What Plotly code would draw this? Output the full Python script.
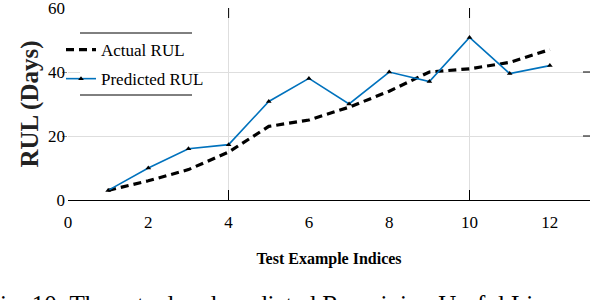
import plotly.graph_objects as go

# Data
test_indices = [1, 2, 3, 4, 5, 6, 7, 8, 9, 10, 11, 12]
actual_rul = [3, 6, 9.5, 15, 23, 25, 29, 34, 40, 41, 43, 47]
predicted_rul = [3, 10, 16, 17.3, 30.8, 38, 30, 40, 37, 50.8, 39.5, 42]
x_tick_vals = [0, 2, 4, 6, 8, 10, 12]
y_tick_vals = [0, 20, 40, 60]
x_grid_vals = [4, 10]
y_grid_vals = [20, 40]

SERIF = "Liberation Serif, Times New Roman, serif"

fig = go.Figure()
fig.add_trace(go.Scatter(
    x=test_indices, y=actual_rul, mode="lines", name="Actual RUL",
    line=dict(color="black", width=3.2, dash="8px,5px"),
    legendgroup="a",
))
fig.add_trace(go.Scatter(
    x=test_indices, y=predicted_rul, mode="lines+markers", name="Predicted RUL",
    line=dict(color="#0072BD", width=1.6),
    marker=dict(symbol="triangle-up", size=5, color="black"),
    legendgroup="b",
))

L, R, T, B = 68, 20, 8, 100
W, H = 610, 300
pw, ph = W - L - R, H - T - B

def px_x(p):
    return (p - L) / pw

def px_y(p):
    return (H - B - p) / ph

shapes = []
# white panel behind the legend
shapes.append(dict(type="rect", xref="paper", yref="paper", layer="above",
                   x0=px_x(80), x1=px_x(192), y0=px_y(95), y1=px_y(33),
                   fillcolor="white", line=dict(width=0)))
# top inside tick marks at x grid positions
for v in x_grid_vals:
    shapes.append(dict(type="line", xref="x", yref="paper", x0=v, x1=v,
                       y0=1, y1=1 - 10 / ph, line=dict(color="black", width=1)))
# right inside tick marks at y grid positions
for v in y_grid_vals:
    shapes.append(dict(type="line", xref="paper", yref="y", x0=1, x1=1 - 7 / pw,
                       y0=v, y1=v, line=dict(color="black", width=1)))
# legend top and bottom rules
for p in (33, 95):
    shapes.append(dict(type="line", xref="paper", yref="paper", layer="above",
                       x0=px_x(80), x1=px_x(192), y0=px_y(p), y1=px_y(p),
                       line=dict(color="black", width=1)))

fig.update_layout(
    width=W, height=H,
    margin=dict(l=L, r=R, t=T, b=B, autoexpand=False),
    plot_bgcolor="white", paper_bgcolor="white",
    font=dict(family=SERIF, color="black", size=16),
    showlegend=True,
    legend=dict(x=px_x(61), y=px_y(32), xanchor="left", yanchor="top",
                bgcolor="rgba(0,0,0,0)", borderwidth=0,
                font=dict(family=SERIF, size=17, color="black"),
                tracegroupgap=4),
    xaxis=dict(range=[0, 13], tickvals=x_tick_vals, ticks="", showgrid=False,
               zeroline=False, showline=True, linecolor="black", linewidth=1,
               tickfont=dict(family=SERIF, size=17, color="black"),
               ticklabelstandoff=7, ticklabeloverflow="allow",
               minor=dict(tickvals=x_grid_vals, ticks="inside", ticklen=10,
                          tickcolor="black", showgrid=True, gridcolor="#dedede",
                          gridwidth=1),
               title=dict(text="<b>Test Example Indices</b>",
                          font=dict(family=SERIF, size=16, color="black"),
                          standoff=21)),
    yaxis=dict(range=[0, 60], tickvals=y_tick_vals, ticks="", showgrid=False,
               zeroline=False, showline=False,
               tickfont=dict(family=SERIF, size=17, color="black"),
               ticklabelstandoff=2, ticklabeloverflow="allow",
               minor=dict(tickvals=y_grid_vals, ticks="outside", ticklen=5,
                          tickcolor="#888888", showgrid=True, gridcolor="#dedede",
                          gridwidth=1),
               title=dict(text="<b>RUL (Days)</b>",
                          font=dict(family=SERIF, size=25, color="#222222"),
                          standoff=2)),
    shapes=shapes,
    annotations=[dict(
        text="Fig. 10: The actual and predicted Remaining Useful Lives",
        xref="paper", yref="paper", x=px_x(-16), y=px_y(289),
        xanchor="left", yanchor="top", showarrow=False,
        font=dict(family=SERIF, size=25, color="black"),
    )],
)

fig.write_html("out.html", config={"displayModeBar": False},
               post_script="document.body.style.margin='0';document.body.style.overflow='hidden';")
